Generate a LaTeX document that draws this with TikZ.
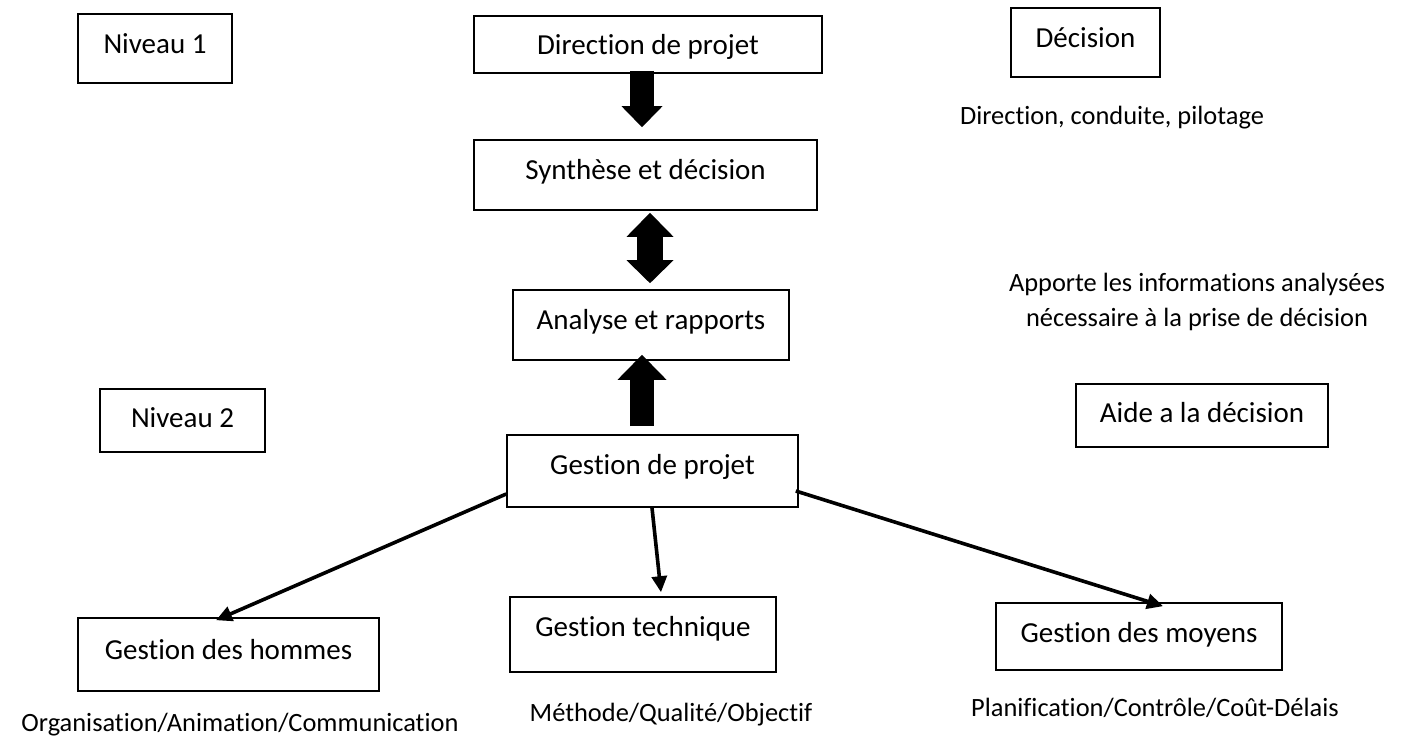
\documentclass[tikz,border=0pt]{standalone}
\usepackage{fontspec}
\setmainfont{Carlito}[Ligatures={NoCommon}]
\usetikzlibrary{arrows.meta}
\begin{document}
\begin{tikzpicture}[x=1pt,y=-1pt,
  box/.style={draw, line width=1.6pt, inner sep=0pt,
    font=\fontsize{29}{35}\selectfont, text height=20pt},
  note/.style={font=\fontsize{26.4}{35}\selectfont, align=center, inner sep=0pt},
  link/.style={line width=3.6pt, -{Triangle[length=16pt,width=15pt]}},
]
\useasboundingbox (0,0) rectangle (1403,747);

% level labels
\node[box, minimum width=154pt, minimum height=69pt, text depth=10pt] (niv1) at (155,48.5) {Niveau 1};
\node[box, minimum width=165pt, minimum height=63pt, text depth=6pt] (niv2) at (182.5,420.5) {Niveau 2};

% central chain
\node[box, minimum width=348pt, minimum height=57pt, text depth=-2pt] (dir) at (648,44.5) {Direction de projet};
\node[box, minimum width=343pt, minimum height=70pt, text depth=11pt] (syn) at (645.5,175) {Synthèse et décision};
\node[box, minimum width=276pt, minimum height=70pt, text depth=11pt] (ana) at (651,325) {Analyse et rapports};
\node[box, minimum width=291pt, minimum height=72pt, text depth=13pt] (gp) at (652.5,471) {Gestion de projet};

% right-hand labels
\node[box, minimum width=149pt, minimum height=69pt, text depth=10pt] (dec) at (1085.5,42.5) {Décision};
\node[note] (cond) at (1112,118) {Direction, conduite, pilotage};
\node[note] (info) at (1197,302) {Apporte les informations analysées\\nécessaire à la prise de décision};
\node[box, minimum width=252pt, minimum height=63pt, text depth=6pt] (aide) at (1202,415.5) {Aide a la décision};

% management branches
\node[box, minimum width=301pt, minimum height=73pt, text depth=10pt] (gh) at (228.5,654.5) {Gestion des hommes};
\node[box, minimum width=266pt, minimum height=75pt, text depth=16pt] (gt) at (643,634.5) {Gestion technique};
\node[box, minimum width=286pt, minimum height=67pt, text depth=8pt] (gm) at (1139,636.5) {Gestion des moyens};

\node[note] (org) at (240,725) {Organisation/Animation/Communication};
\node[note] (meth) at (671,715) {Méthode/Qualité/Objectif};
\node[note] (plan) at (1155,708) {Planification/Contrôle/Coût-Délais};

% block arrows
\draw[line width=24pt, -{Triangle[length=21pt,width=41pt,line width=0pt]}]
  ([xshift=-6pt,yshift=3pt]dir.south) -- ([xshift=-3.5pt,yshift=12pt]syn.north);
\draw[line width=26pt, {Triangle[length=24pt,width=47pt,line width=0pt]}-{Triangle[length=23pt,width=47pt,line width=0pt]}]
  ([xshift=4.5pt,yshift=-2pt]syn.south) -- ([xshift=-1pt,yshift=6pt]ana.north);
\draw[line width=24pt, -{Triangle[length=25pt,width=49pt,line width=0pt]}]
  ([xshift=-10.5pt,yshift=8pt]gp.north) -- ([xshift=-9pt,yshift=6pt]ana.south);

% thin connectors
\draw[link] ([yshift=-23pt]gp.west) -- ([xshift=-12.5pt,yshift=-3pt]gh.north);
\draw[link] ([xshift=-0.5pt]gp.south) -- ([xshift=18pt,yshift=4pt]gt.north);
\draw[link] ([xshift=-3pt,yshift=-20pt]gp.east) -- ([xshift=24pt,yshift=-4pt]gm.north);
\end{tikzpicture}
\end{document}
